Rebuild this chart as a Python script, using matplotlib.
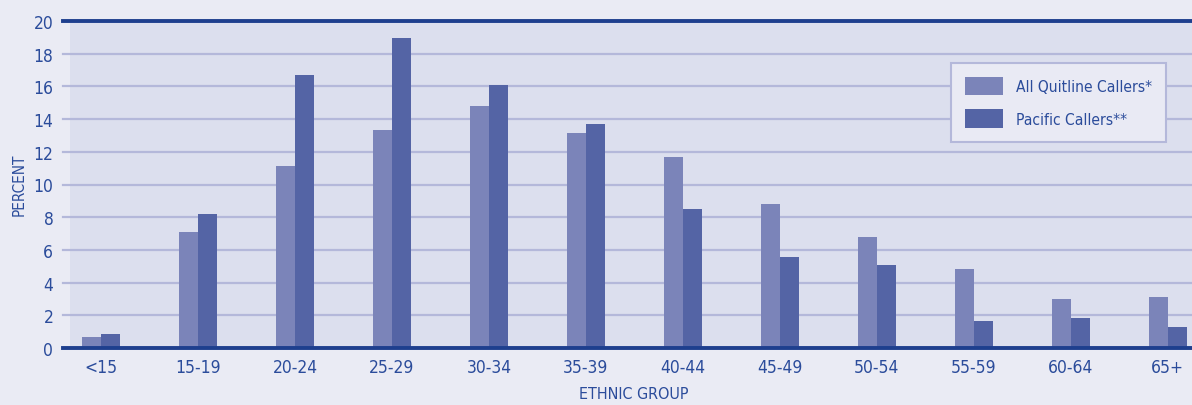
import matplotlib.pyplot as plt
import numpy as np

plt.rcParams['font.family'] = ['DejaVu Sans']
plt.rcParams['font.stretch'] = 'condensed'

# data
groups = ['<15', '15-19', '20-24', '25-29', '30-34', '35-39',
          '40-44', '45-49', '50-54', '55-59', '60-64', '65+']
all_callers = [0.69, 7.1, 11.14, 13.34, 14.8, 13.16, 11.69, 8.82, 6.8, 4.85, 3.01, 3.14]
pacific_callers = [0.88, 8.2, 16.7, 18.96, 16.09, 13.7, 8.51, 5.58, 5.09, 1.67, 1.85, 1.3]
y_ticks = [0, 2, 4, 6, 8, 10, 12, 14, 16, 18, 20]

# colours
fig_bg = '#eaebf4'
plot_bg = '#dcdfee'
grid_col = '#b4b8da'
axis_col = '#1e3f8e'
text_col = '#2b4c9b'
light_bar = '#7b84b9'
dark_bar = '#5464a5'

W, H = 1192, 406
fig = plt.figure(figsize=(W / 100, H / 100), dpi=100, facecolor=fig_bg)
ax = fig.add_axes([70 / W, 1 - 349 / H, 1122 / W, 327 / H])
ax.set_facecolor(plot_bg)

x = np.arange(len(groups))
bw = 0.196
ax.bar(x - bw / 2, all_callers, bw, color=light_bar, zorder=3, label='All Quitline Callers*')
ax.bar(x + bw / 2, pacific_callers, bw, color=dark_bar, zorder=3, label='Pacific Callers**')

ax.set_xlim(-0.32, 11.25)
ax.set_ylim(0, 20)

# grid lines, running a little past the left edge like tick marks
ext = -7 / 1122
for t in y_ticks:
    if t in (0, 20):
        ax.axhline(t, xmin=ext, xmax=1, color=axis_col, lw=2.8, clip_on=False, zorder=4)
    else:
        ax.axhline(t, xmin=ext, xmax=1, color=grid_col, lw=1.6, clip_on=False, zorder=1)

for s in ax.spines.values():
    s.set_visible(False)

ax.set_yticks(y_ticks)
ax.set_xticks(x)
ax.set_xticklabels(groups)
ax.tick_params(axis='both', length=0, labelsize=12.5, colors=text_col)
ax.tick_params(axis='y', pad=12)
ax.tick_params(axis='x', pad=7)

fig.text(19 / W, 1 - 185 / H, 'PERCENT', rotation=90, color=text_col, fontsize=11,
         ha='center', va='center')
fig.text(634 / W, 1 - 395 / H, 'ETHNIC GROUP', color=text_col, fontsize=11.5,
         ha='center', va='center')

leg = ax.legend(loc='upper left', bbox_to_anchor=(881 / 1122, 1 - 42 / 327),
                frameon=True, fontsize=11.2, handlelength=2.45, handleheight=1.45,
                handletextpad=0.85, labelspacing=0.9, borderpad=0.9, fancybox=False,
                borderaxespad=0)
leg.get_frame().set_facecolor('#e9eaf4')
leg.get_frame().set_edgecolor(grid_col)
leg.get_frame().set_linewidth(1.5)
leg.get_frame().set_alpha(1)
for t in leg.get_texts():
    t.set_color(text_col)

fig.savefig('out.png', dpi=100, facecolor=fig_bg)
